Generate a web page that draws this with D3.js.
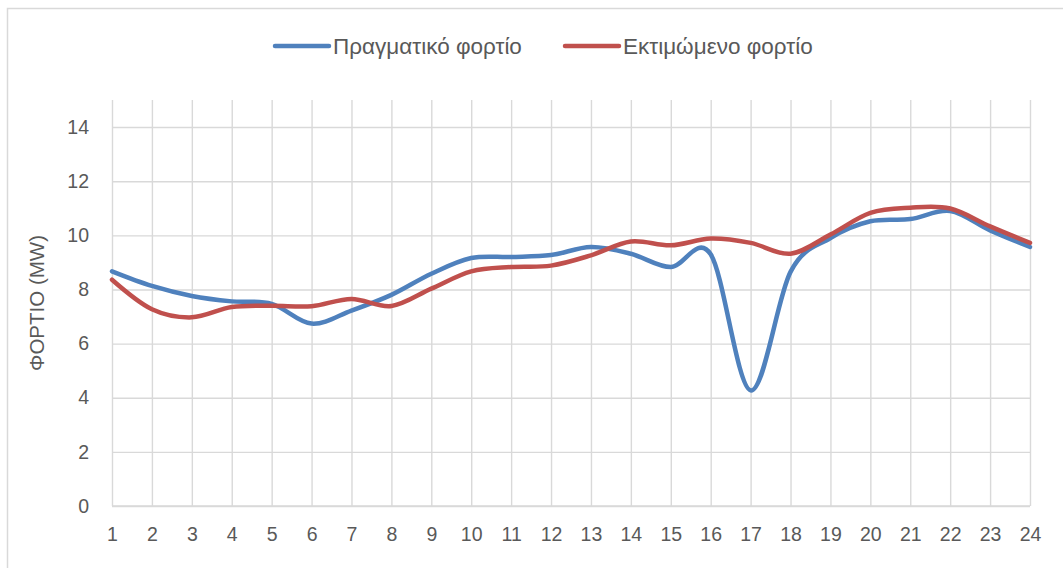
<!DOCTYPE html>
<html>
<head>
<meta charset="utf-8">
<script src="https://cdn.jsdelivr.net/npm/d3@7"></script>
<style>
  html, body { margin: 0; padding: 0; background: #ffffff; }
  svg { display: block; }
  text { font-family: "Liberation Sans", "DejaVu Sans", sans-serif; fill: #595959; }
</style>
</head>
<body>
<svg id="chart" width="1063" height="568"></svg>
<script>
const hours = ["1","2","3","4","5","6","7","8","9","10","11","12","13","14","15","16","17","18","19","20","21","22","23","24"];
const actualLoad = [8.67, 8.13, 7.76, 7.56, 7.47, 6.74, 7.22, 7.8, 8.58, 9.16, 9.2, 9.27, 9.57, 9.32, 8.83, 9.3, 4.27, 8.65, 9.9, 10.52, 10.6, 10.9, 10.18, 9.57];
const estimatedLoad = [8.36, 7.27, 6.97, 7.35, 7.4, 7.38, 7.65, 7.39, 8.03, 8.67, 8.83, 8.88, 9.26, 9.77, 9.63, 9.88, 9.72, 9.32, 10.03, 10.83, 11.02, 10.99, 10.33, 9.72];
const seriesNames = ["Πραγματικό φορτίο", "Εκτιμώμενο φορτίο"];
const yTicks = [0, 2, 4, 6, 8, 10, 12, 14];
const yTitle = "ΦΟΡΤΙΟ (MW)";

const colors = ["#4F81BD", "#C0504D"];
const svg = d3.select("#chart");
const m = { left: 112, right: 1030, top: 100, bottom: 506 };

// outer chart frame
svg.append("rect").attr("x", 7.5).attr("y", 8.5).attr("width", 1200).attr("height", 700)
  .attr("fill", "#fff").attr("stroke", "#d9d9d9").attr("stroke-width", 1.5);

const x = d3.scalePoint().domain(hours).range([m.left, m.right]);
const y = d3.scaleLinear().domain([0, 15]).range([m.bottom, m.top]);

// horizontal gridlines
const gy = svg.append("g").attr("transform", `translate(${m.left},0)`)
  .call(d3.axisLeft(y).tickValues(yTicks).tickSize(-(m.right - m.left)).tickFormat(d3.format("d")).tickPadding(23));
gy.select(".domain").remove();
gy.selectAll(".tick line").attr("stroke", "#d9d9d9").attr("stroke-width", 1.4);
gy.selectAll(".tick text").attr("font-size", 19.5).attr("fill", "#595959")
  .style("font-family", "'Liberation Sans', sans-serif");

// vertical gridlines + x labels
const gx = svg.append("g").attr("transform", `translate(0,${m.bottom})`)
  .call(d3.axisBottom(x).tickSize(-(m.bottom - m.top)).tickPadding(21));
gx.select(".domain").remove();
gx.selectAll(".tick line").attr("stroke", "#d9d9d9").attr("stroke-width", 1.4);
gx.selectAll(".tick text").attr("font-size", 19.5).attr("fill", "#595959")
  .style("font-family", "'Liberation Sans', sans-serif");

// baseline
svg.append("line").attr("x1", m.left).attr("x2", m.right).attr("y1", y(0)).attr("y2", y(0))
  .attr("stroke", "#d9d9d9").attr("stroke-width", 1.4);

// y title
svg.append("text").attr("transform", `translate(44,${(m.top + m.bottom) / 2}) rotate(-90)`)
  .attr("text-anchor", "middle").attr("font-size", 20.5).text(yTitle);

// lines
const line = d3.line().x((d, i) => x(hours[i])).y(d => y(d)).curve(d3.curveCardinal.tension(0));
[actualLoad, estimatedLoad].forEach((s, k) => {
  svg.append("path").datum(s).attr("d", line).attr("fill", "none")
    .attr("stroke", colors[k]).attr("stroke-width", 4.5).attr("stroke-linecap", "round").attr("stroke-linejoin", "round");
});

// legend
const legendX = [275, 565];
seriesNames.forEach((n, k) => {
  const g = svg.append("g").attr("transform", `translate(${legendX[k]},46)`);
  g.append("line").attr("x1", 0).attr("x2", 54).attr("y1", 0).attr("y2", 0)
    .attr("stroke", colors[k]).attr("stroke-width", 4.5).attr("stroke-linecap", "round");
  g.append("text").attr("x", 58).attr("y", 7.5).attr("font-size", 22.5).text(n);
});
</script>
</body>
</html>
